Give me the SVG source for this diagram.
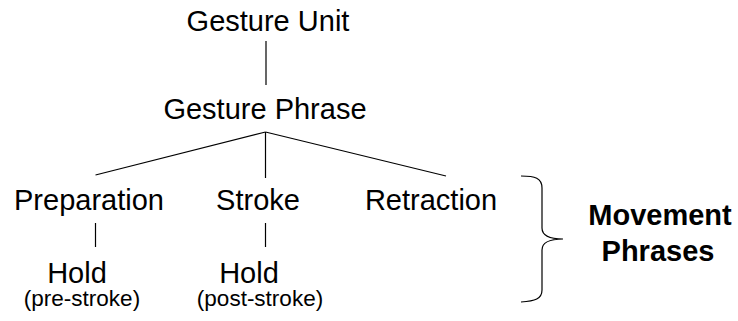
<svg xmlns="http://www.w3.org/2000/svg" width="738" height="321" viewBox="0 0 738 321">
<style>
text{font-family:"Liberation Sans",Arial,sans-serif;fill:#000;text-anchor:middle}
.n{font-size:29px}
.s{font-size:22.5px}
.b{font-size:29px;font-weight:bold}
.l{stroke:#000;stroke-width:1.2;fill:none}
</style>
<rect width="738" height="321" fill="#fff"/>
<g id="connectors">
<line class="l" x1="266" y1="41" x2="266" y2="85"/>
<line class="l" x1="265.5" y1="132" x2="95.5" y2="175"/>
<line class="l" x1="265.5" y1="132" x2="265.5" y2="178"/>
<line class="l" x1="265.5" y1="132" x2="446" y2="176"/>
<line class="l" x1="95.5" y1="223" x2="95.5" y2="247"/>
<line class="l" x1="265.5" y1="223" x2="265.5" y2="247"/>
</g>
<g id="gesture-unit"><text class="n" x="268" y="31">Gesture Unit</text></g>
<g id="gesture-phrase"><text class="n" x="265" y="119">Gesture Phrase</text></g>
<g id="preparation"><text class="n" x="89" y="210">Preparation</text></g>
<g id="stroke"><text class="n" x="258" y="210">Stroke</text></g>
<g id="retraction"><text class="n" x="431" y="210">Retraction</text></g>
<g id="hold-pre"><text class="n" x="77" y="283">Hold</text><text class="s" x="82" y="306">(pre-stroke)</text></g>
<g id="hold-post"><text class="n" x="249" y="283">Hold</text><text class="s" x="260" y="306">(post-stroke)</text></g>
<g id="movement-phrases">
<path class="l" d="M521,176 C535,176 542,178 542,188 L542,228 C542,236 550,239 563,239 C550,239 542,242 542,250 L542,290 C542,299 535,301 521,302"/>
<text class="b" x="660" y="225">Movement</text>
<text class="b" x="658" y="261">Phrases</text>
</g>
</svg>
